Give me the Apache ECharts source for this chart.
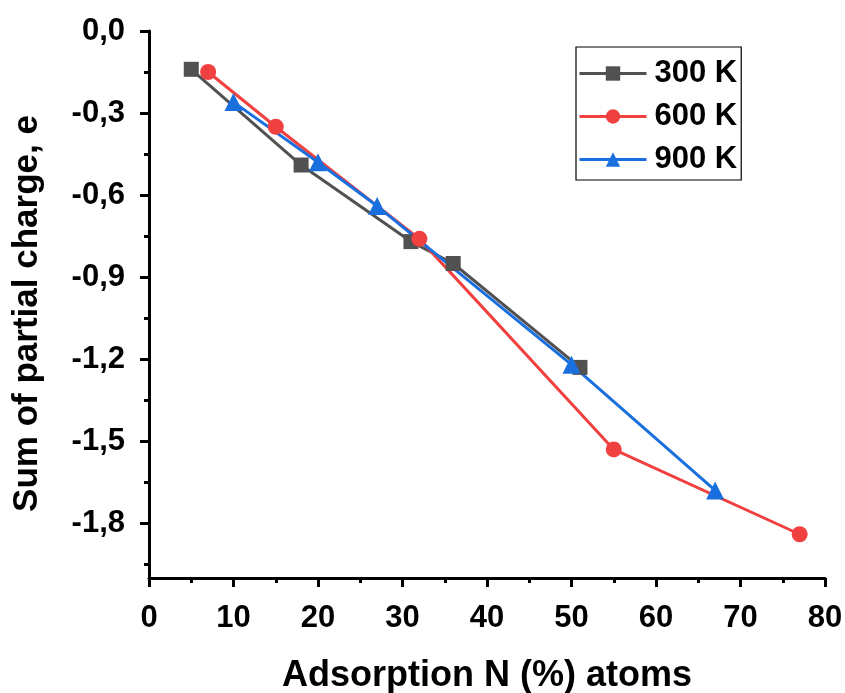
<!DOCTYPE html>
<html>
<head>
<meta charset="utf-8">
<script src="https://cdn.jsdelivr.net/npm/echarts@6/dist/echarts.min.js"></script>
<style>
  html, body { margin: 0; padding: 0; background: #fff; }
  #chart { width: 845px; height: 693px; }
</style>
</head>
<body>
<div id="chart"></div>
<script>
// Adsorbed N fraction (%) and summed partial charge (e) at three temperatures
const x300 = [5, 18, 31, 36, 51];
const y300 = [-0.14, -0.49, -0.77, -0.85, -1.23];
const x600 = [7, 15, 32, 55, 77];
const y600 = [-0.15, -0.35, -0.76, -1.53, -1.84];
const x900 = [10, 20, 27, 50, 67];
const y900 = [-0.26, -0.48, -0.64, -1.22, -1.68];

const seriesNames = ['300 K', '600 K', '900 K'];
const yMajorTicks = [0, -0.3, -0.6, -0.9, -1.2, -1.5, -1.8];
const yMinorTicks = [-0.15, -0.45, -0.75, -1.05, -1.35, -1.65, -1.95];

const FONT = "'Liberation Sans', Arial, sans-serif";
const pair = (xs, ys) => xs.map((v, i) => [v, ys[i]]);
const comma = v => v.toFixed(1).replace('.', ',');

const chart = echarts.init(document.getElementById('chart'), null, { renderer: 'canvas' });

const mkSeries = (name, data, color, symbol, size) => ({
  name, type: 'line', data,
  symbol, symbolSize: size,
  lineStyle: { color, width: 3 },
  itemStyle: { color, borderWidth: 0 },
  emphasis: { disabled: true },
  animation: false
});

chart.setOption({
  backgroundColor: '#fff',
  animation: false,
  grid: { left: 149, right: 20, top: 31, bottom: 115, containLabel: false, outerBoundsMode: 'none' },
  xAxis: {
    type: 'value', min: 0, max: 80, interval: 10,
    name: 'Adsorption N (%) atoms',
    nameLocation: 'middle', nameGap: 80,
    nameTextStyle: { fontFamily: FONT, fontWeight: 'bold', fontSize: 36, color: '#000' },
    axisLine: { show: true, onZero: false, lineStyle: { color: '#000', width: 3 } },
    axisTick: { show: true, length: 9, lineStyle: { color: '#000', width: 3 } },
    minorTick: { show: true, splitNumber: 2, length: 5, lineStyle: { color: '#000', width: 3 } },
    axisLabel: { fontFamily: FONT, fontWeight: 'bold', fontSize: 31, color: '#000', margin: 25 },
    splitLine: { show: false }
  },
  yAxis: [
    {
      type: 'value', min: -2.0, max: 0,
      name: 'Sum of partial charge, e',
      nameLocation: 'middle', nameGap: 104, nameRotate: 90,
      nameTextStyle: { fontFamily: FONT, fontWeight: 'bold', fontSize: 35, color: '#000', padding: [0, 18, 0, 0] },
      axisLine: { show: true, onZero: false, lineStyle: { color: '#000', width: 3 } },
      axisTick: { show: true, length: 9, customValues: yMajorTicks, lineStyle: { color: '#000', width: 3 } },
      axisLabel: { fontFamily: FONT, fontWeight: 'bold', fontSize: 31, color: '#000', margin: 24,
                   customValues: yMajorTicks, formatter: comma },
      splitLine: { show: false }
    },
    {
      // minor ticks between the labelled ones
      type: 'value', min: -2.0, max: 0, position: 'left',
      axisLine: { show: false },
      axisTick: { show: true, length: 5, customValues: yMinorTicks, lineStyle: { color: '#000', width: 3 } },
      axisLabel: { show: false },
      splitLine: { show: false }
    }
  ],
  legend: {
    orient: 'vertical',
    left: 576, top: 47,
    padding: [11, 4, 5, 2],
    itemWidth: 67, itemHeight: 18, itemGap: 12,
    backgroundColor: '#fff',
    borderColor: '#000', borderWidth: 1.2,
    lineStyle: { width: 3 },
    textStyle: { fontFamily: FONT, fontWeight: 'bold', fontSize: 31, color: '#000', padding: [0, 0, 0, 3] },
    data: seriesNames
  },
  series: [
    mkSeries(seriesNames[0], pair(x300, y300), '#515151', 'rect', 15),
    mkSeries(seriesNames[1], pair(x600, y600), '#F14040', 'circle', 16),
    mkSeries(seriesNames[2], pair(x900, y900), '#1A6FDF', 'triangle', 18)
  ]
});
</script>
</body>
</html>
